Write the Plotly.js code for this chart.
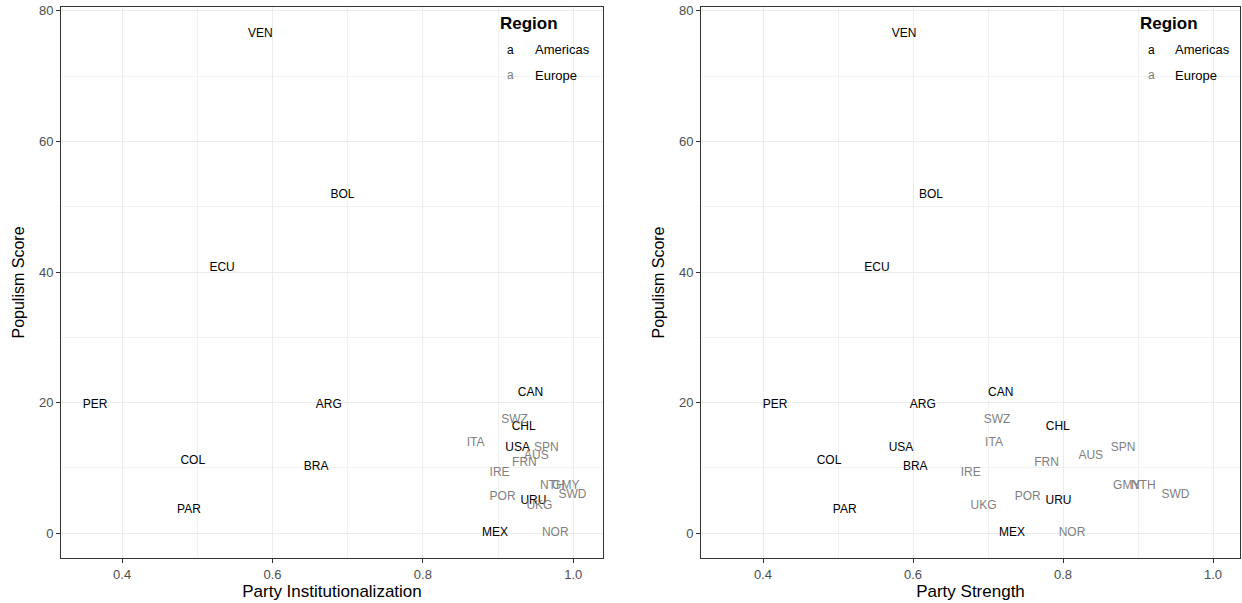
<!DOCTYPE html>
<html>
<head>
<meta charset="utf-8">
<script src="https://cdn.plot.ly/plotly-3.0.1.min.js"></script>
<style>html,body{margin:0;padding:0;background:#fff}#chart{width:1242px;height:603px}</style>
</head>
<body>
<div id="chart"></div>
<script>
// Data
const countries = ["VEN","BOL","ECU","PER","ARG","COL","BRA","PAR","CAN","CHL","USA","URU","MEX",
                   "SWZ","ITA","SPN","AUS","FRN","IRE","NTH","GMY","SWD","POR","UKG","NOR"];
const region = ["Americas","Americas","Americas","Americas","Americas","Americas","Americas","Americas","Americas","Americas","Americas","Americas","Americas",
                "Europe","Europe","Europe","Europe","Europe","Europe","Europe","Europe","Europe","Europe","Europe","Europe"];
const populismScore = [76.5,51.8,40.6,19.7,19.7,11.1,10.2,3.5,21.4,16.3,13.1,5.0,0.0,
                       17.4,13.8,13.1,11.8,10.8,9.2,7.3,7.3,5.8,5.5,4.2,0.0];
const partyInst = [0.584,0.693,0.533,0.364,0.675,0.494,0.658,0.489,0.943,0.934,0.926,0.947,0.896,
                   0.922,0.870,0.964,0.951,0.935,0.902,0.972,0.990,0.999,0.906,0.955,0.976];
const partyStrength = [0.588,0.624,0.552,0.416,0.613,0.488,0.603,0.509,0.717,0.793,0.584,0.794,0.732,
                       0.712,0.708,0.880,0.837,0.778,0.677,0.907,0.885,0.950,0.753,0.694,0.812];
const regionNames = ["Americas","Europe"];
const regionColors = {"Americas":"#000000","Europe":"#7f7f7f"};
const xTitles = ["Party Institutionalization","Party Strength"];
const yTitle = "Populism Score";

const FONT = "Liberation Sans, Arial, sans-serif";
function pick(arr, r){ return arr.filter((_,i)=>region[i]===r); }

const traces = [];
[partyInst, partyStrength].forEach((xs, p) => {
  regionNames.forEach(r => {
    traces.push({
      type:"scatter", mode:"text",
      x: pick(xs, r), y: pick(populismScore, r), text: pick(countries, r),
      textposition:"middle center",
      textfont:{family:FONT, size:12, color:regionColors[r]},
      xaxis: p===0 ? "x" : "x2", yaxis: p===0 ? "y" : "y2",
      showlegend:false, hoverinfo:"text"
    });
  });
});

const W = 1242, H = 603;
const yDom = [(H-558)/H, (H-7)/H];
function xax(dom, rng, title){
  return {
    domain: dom, range: rng, tick0: 0, dtick: 0.2, tickformat: ".1f",
    showgrid: true, gridcolor: "#ebebeb", gridwidth: 1,
    minor: {dtick: 0.1, showgrid: true, gridcolor: "#f1f1f1", gridwidth: 1},
    zeroline: false, showline: true, mirror: true, linecolor: "#333333", linewidth: 1,
    ticks: "outside", ticklen: 4, tickcolor: "#333333",
    tickfont: {family:FONT, size: 13, color: "#4d4d4d"},
    title: {text: title, font: {family:FONT, size: 17, color: "#000"}, standoff: 2},
    automargin: false
  };
}
function yax(anchor){
  return {
    domain: yDom, range: [-3.8, 80.6], tick0: 0, dtick: 20, anchor: anchor,
    showgrid: true, gridcolor: "#ebebeb", gridwidth: 1,
    minor: {dtick: 10, showgrid: true, gridcolor: "#f1f1f1", gridwidth: 1},
    zeroline: false, showline: true, mirror: true, linecolor: "#333333", linewidth: 1,
    ticks: "outside", ticklen: 4, tickcolor: "#333333",
    tickfont: {family:FONT, size: 13, color: "#4d4d4d"},
    title: {text: yTitle, font: {family:FONT, size: 16, color: "#000"}, standoff: 10},
    automargin: false
  };
}

const annotations = [];
[[529, 510, 533], [1169, 1151, 1173]].forEach(([cx, ax, tx]) => {
  annotations.push({xref:"paper", yref:"paper", x: cx/W, y: 1-23/H, text:"<b>Region</b>", showarrow:false,
    xanchor:"center", yanchor:"middle", font:{family:FONT, size:17, color:"#000"}});
  regionNames.forEach((r, k) => {
    const yy = 1-(50+25*k)/H;
    annotations.push({xref:"paper", yref:"paper", x: ax/W, y: yy, text:"a", showarrow:false,
      xanchor:"center", yanchor:"middle", font:{family:FONT, size:12, color:regionColors[r]}});
    annotations.push({xref:"paper", yref:"paper", x: tx/W, y: yy, text:r, showarrow:false,
      xanchor:"left", yanchor:"middle", font:{family:FONT, size:13, color:"#000"}});
  });
});

const layout = {
  width: W, height: H,
  margin: {l:0, r:0, t:0, b:0},
  paper_bgcolor: "#fff", plot_bgcolor: "#fff",
  showlegend: false,
  xaxis: xax([61/W, 603/W], [0.3188, 1.0395], xTitles[0]),
  yaxis: yax("x"),
  xaxis2: xax([701/W, 1240/W], [0.3173, 1.036], xTitles[1]),
  yaxis2: yax("x2"),
  annotations: annotations
};
layout.xaxis.anchor = "y";
layout.xaxis2.anchor = "y2";

Plotly.newPlot("chart", traces, layout, {displayModeBar:false, staticPlot:true});
</script>
</body>
</html>
